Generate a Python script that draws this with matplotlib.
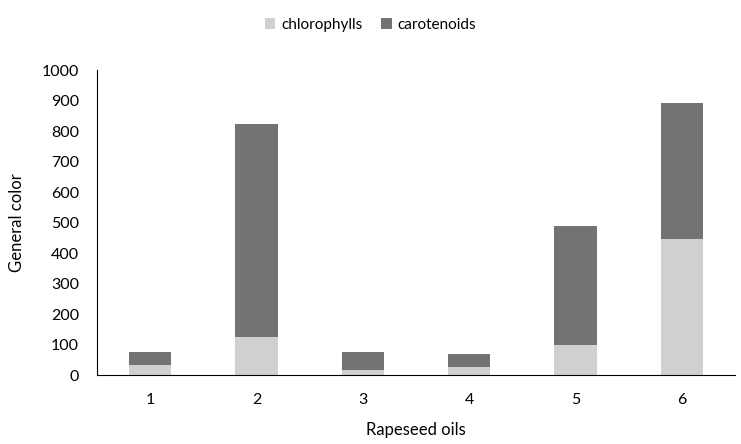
import numpy as np
import matplotlib.pyplot as plt

oils = ['1', '2', '3', '4', '5', '6']
chlorophylls = [33, 125, 15, 27, 97, 447]
carotenoids = [42, 697, 60, 43, 393, 446]

plt.rcParams['font.family'] = ['Lato', 'DejaVu Sans']

fig = plt.figure(figsize=(7.41, 4.44), dpi=100)
ax = fig.add_axes([97/741, 1 - 375/444, 638/741, 305/444])

x = np.arange(1, len(oils) + 1)
ax.bar(x, chlorophylls, width=0.4, color='#d0d0d0', label='chlorophylls')
ax.bar(x, carotenoids, width=0.4, bottom=chlorophylls, color='#737373', label='carotenoids')

ax.set_xlim(0.5, 6.5)
ax.set_ylim(0, 1000)
ax.set_yticks(range(0, 1001, 100))
ax.set_xticks(x)
ax.set_xticklabels(oils)
ax.tick_params(axis='both', length=0, labelsize=11.5, colors='#000000')
ax.tick_params(axis='y', pad=13)
ax.tick_params(axis='x', pad=13)
for s in ['top', 'right']:
    ax.spines[s].set_visible(False)
ax.spines['left'].set_color('#000000')
ax.spines['bottom'].set_color('#000000')

ax.set_xlabel('Rapeseed oils', fontsize=12, labelpad=11)
ax.set_ylabel('General color', fontsize=12, labelpad=12)

fig.legend(loc='upper center', bbox_to_anchor=(0.5, 0.99), ncol=2, frameon=False,
           fontsize=11, handlelength=0.7, handleheight=0.7, columnspacing=1.2, handletextpad=0.4)

plt.savefig('out.png')
